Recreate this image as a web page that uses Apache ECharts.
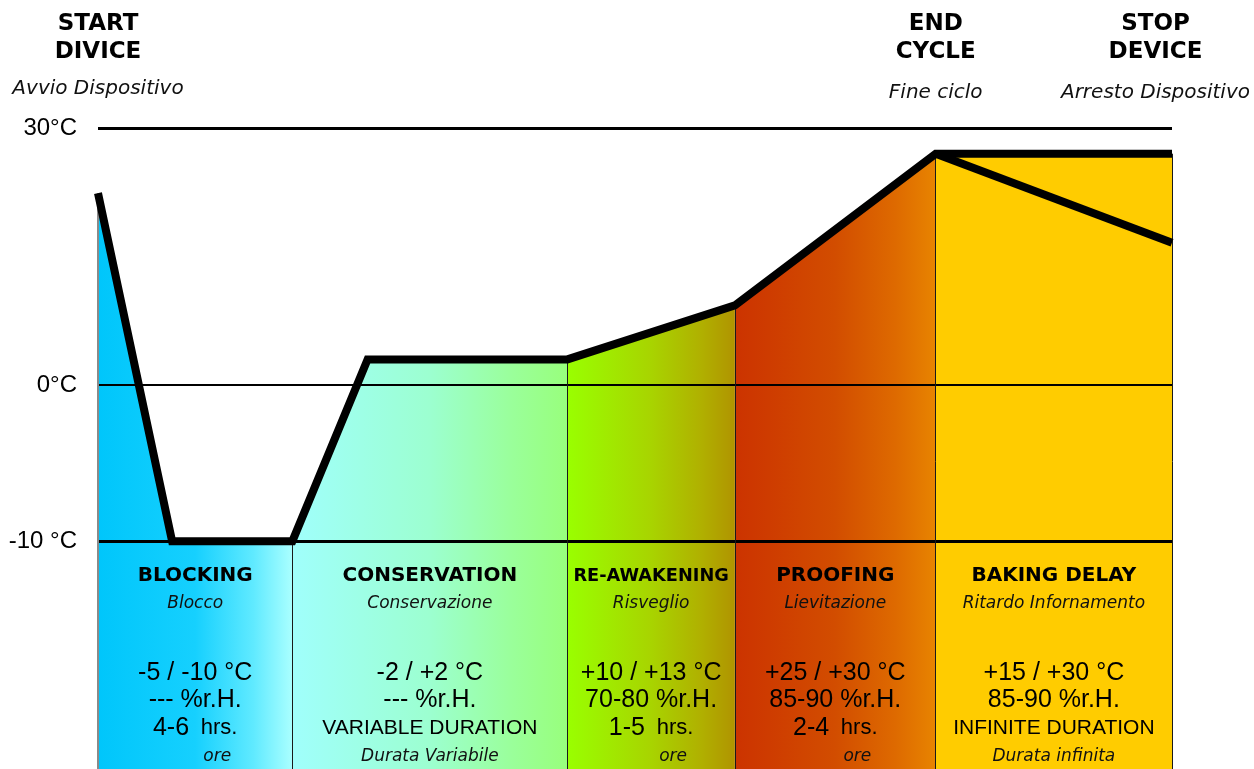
<!DOCTYPE html>
<html>
<head>
<meta charset="utf-8">
<script src="https://cdn.jsdelivr.net/npm/echarts@6/dist/echarts.min.js"></script>
<style>
  html, body { margin: 0; padding: 0; background: #fff; }
  #main { width: 1254px; height: 769px; }
</style>
</head>
<body>
<div id="main"></div>
<script>
// temperature profile (x = progress of the cycle, 0..100 ; t = °C)
var profileX = [0, 6.9, 18.1, 25.1, 43.7, 59.3, 78.0, 100];
var profileT = [22.4, -10, -10, 3, 3, 9.3, 27, 27];
// second (falling) line of the baking delay phase
var coolX = [78.0, 100];
var coolT = [27, 16.6];

// phases: index of first / last profile point
var phaseFrom = [0, 2, 4, 5, 6];
var phaseTo   = [2, 4, 5, 6, 7];
var phaseNames   = ['BLOCKING', 'CONSERVATION', 'RE-AWAKENING', 'PROOFING', 'BAKING DELAY'];
var phaseNamesIt = ['Blocco', 'Conservazione', 'Risveglio', 'Lievitazione', 'Ritardo Infornamento'];
var phaseTemp = ['-5 / -10 °C', '-2 / +2 °C', '+10 / +13 °C', '+25 / +30 °C', '+15 / +30 °C'];
var phaseRH   = ['--- %r.H.', '--- %r.H.', '70-80 %r.H.', '85-90 %r.H.', '85-90 %r.H.'];
var phaseDur  = ['4-6 hrs.', 'VARIABLE DURATION', '1-5 hrs.', '2-4 hrs.', 'INFINITE DURATION'];
var phaseDurIt = ['ore', 'Durata Variabile', 'ore', 'ore', 'Durata infinita'];
var phaseColors = [
  ['#00c6fb', '#16d0fe', '#60eaff', '#aaffff'],
  ['#a0fffc', '#9cffd0', '#9aff9a', '#98ff7c'],
  ['#99ff00', '#a8d400', '#b0b000', '#b09400'],
  ['#cc3300', '#d24d00', '#de6a00', '#e88400'],
  ['#ffcc00', '#ffcc00', '#ffcc00', '#ffcc00']
];

// events on top
var eventX = [0, 78.0, 100];
var eventNames = ['START\nDIVICE', 'END\nCYCLE', 'STOP\nDEVICE'];
var eventNamesIt = ['Avvio Dispositivo', 'Fine ciclo', 'Arresto Dispositivo'];

// y axis ticks
var tickTemps = [30, 0, -10];
var tickLabels = ['30°C', '0°C', '-10 °C'];

// below zero the scale is stretched
var NEG = 1.821;
function toAxis(t) { return t < 0 ? t * NEG : t; }

var chart = echarts.init(document.getElementById('main'));

function pts(xs, ts, a, b) {
  var out = [];
  for (var i = a; i <= b; i++) out.push([xs[i], toAxis(ts[i])]);
  return out;
}

function grad(c) {
  return new echarts.graphic.LinearGradient(0, 0, 1, 0, [
    { offset: 0, color: c[0] }, { offset: 0.5, color: c[1] },
    { offset: 0.8, color: c[2] }, { offset: 1, color: c[3] }
  ]);
}

var series = [];
phaseFrom.forEach(function (a, i) {
  series.push({
    type: 'line',
    data: pts(profileX, profileT, a, phaseTo[i]),
    symbol: 'none',
    lineStyle: { width: 0 },
    areaStyle: { color: grad(phaseColors[i]), opacity: 1, origin: 'start' },
    z: 1,
    silent: true
  });
});

// reference lines
var refLines = [];
tickTemps.forEach(function (t, i) {
  refLines.push([
    { coord: [0, toAxis(t)], lineStyle: { width: t === 0 ? 2 : 3, color: '#000', type: 'solid' } },
    { coord: [100, toAxis(t)] }
  ]);
});
// vertical borders of the phases
var yMin = -44.8;
var borders = [0].concat(phaseTo);
borders.forEach(function (idx, i) {
  refLines.push([
    { coord: [profileX[idx], toAxis(profileT[idx])],
      lineStyle: { width: i === 0 ? 2 : 1, color: i === 0 ? '#8a8a8a' : '#1a1a1a', type: 'solid' } },
    { coord: [profileX[idx], yMin] }
  ]);
});
series.push({
  type: 'line',
  data: [],
  z: 3,
  markLine: {
    silent: true,
    symbol: 'none',
    label: { show: false },
    animation: false,
    data: refLines
  }
});

series.push({
  type: 'line',
  data: pts(profileX, profileT, 0, profileX.length - 1),
  symbol: 'none',
  lineStyle: { color: '#000', width: 8, join: 'miter', cap: 'butt' },
  z: 5,
  silent: true
});
series.push({
  type: 'line',
  data: pts(coolX, coolT, 0, coolX.length - 1),
  symbol: 'none',
  lineStyle: { color: '#000', width: 8, join: 'miter', cap: 'butt' },
  z: 5,
  silent: true
});

var option = {
  animation: false,
  grid: { left: 98, right: 82, top: 128, bottom: 0 },
  xAxis: { type: 'value', min: 0, max: 100, show: false },
  yAxis: {
    type: 'value',
    min: yMin,
    max: 30,
    axisLine: { show: false },
    axisTick: { show: false },
    splitLine: { show: false },
    axisLabel: {
      customValues: tickTemps.map(toAxis),
      margin: 21,
      fontSize: 24,
      fontFamily: 'Liberation Sans',
      color: '#000',
      formatter: function (v) {
        for (var i = 0; i < tickTemps.length; i++) {
          if (Math.abs(toAxis(tickTemps[i]) - v) < 0.01) return tickLabels[i];
        }
        return '';
      }
    }
  },
  series: series
};
chart.setOption(option);

// texts
var W = 1254;
var ctx = document.createElement('canvas').getContext('2d');
function textWidth(s, font) { ctx.font = font; return ctx.measureText(s).width; }

var graphics = [];
var baseY = chart.convertToPixel({ gridIndex: 0 }, [0, toAxis(-10)])[1];
phaseFrom.forEach(function (a, i) {
  var x0 = chart.convertToPixel({ gridIndex: 0 }, [profileX[a], 0])[0];
  var x1 = chart.convertToPixel({ gridIndex: 0 }, [profileX[phaseTo[i]], 0])[0];
  var cx = (x0 + x1) / 2;
  var fs = 20;
  var tw = textWidth(phaseNames[i], 'bold 20px "DejaVu Sans"');
  if (tw > x1 - x0 - 12) fs = 20 * (x1 - x0 - 12) / tw;
  function add(text, dy, style, dx) {
    graphics.push({
      type: 'text', x: cx + (dx || 0), y: baseY + dy, silent: true, z: 100,
      style: echarts.util.extend({ text: text, fill: '#000', align: 'center', verticalAlign: 'middle' }, style)
    });
  }
  add(phaseNames[i], 35, { fontSize: fs, fontWeight: 'bold', fontFamily: 'DejaVu Sans' });
  add(phaseNamesIt[i], 62, { fontSize: 17, fontStyle: 'italic', fontFamily: 'DejaVu Sans', fill: '#111' });
  add(phaseTemp[i], 132, { fontSize: 25, fontFamily: 'Liberation Sans' });
  add(phaseRH[i], 159, { fontSize: 25, fontFamily: 'Liberation Sans' });
  var d = phaseDur[i];
  if (/ hrs\.$/.test(d)) {
    add('{n|' + d.replace(' hrs.', '') + '}  {h|hrs.}', 187, {
      fontFamily: 'Liberation Sans', fontSize: 21,
      rich: {
        n: { fontSize: 25, fontFamily: 'Liberation Sans', fill: '#000' },
        h: { fontSize: 22, fontFamily: 'Liberation Sans', fill: '#000' }
      }
    });
  } else {
    add(d, 187, { fontSize: 21, fontFamily: 'Liberation Sans' });
  }
  var it = phaseDurIt[i];
  add(it, 215, { fontSize: 17, fontStyle: 'italic', fontFamily: 'DejaVu Sans', fill: '#111' }, it === 'ore' ? 22 : 0);
});

eventX.forEach(function (ex, i) {
  var px = chart.convertToPixel({ gridIndex: 0 }, [ex, 0])[0];
  var itW = textWidth(eventNamesIt[i], 'italic 20px "DejaVu Sans"');
  var cx = Math.min(px, W - 4 - itW / 2);
  graphics.push({
    type: 'text', x: cx, y: 38, silent: true, z: 100,
    style: { text: eventNames[i], fontSize: 23, fontWeight: 'bold', fontFamily: 'DejaVu Sans',
             lineHeight: 28, fill: '#000', align: 'center', verticalAlign: 'middle' }
  });
  graphics.push({
    type: 'text', x: cx, y: i === 0 ? 89 : 93, silent: true, z: 100,
    style: { text: eventNamesIt[i], fontSize: 20, fontStyle: 'italic', fontFamily: 'DejaVu Sans',
             fill: '#111', align: 'center', verticalAlign: 'middle' }
  });
});

chart.setOption({ graphic: graphics });

window.addEventListener('resize', function () { chart.resize(); });
</script>
</body>
</html>
